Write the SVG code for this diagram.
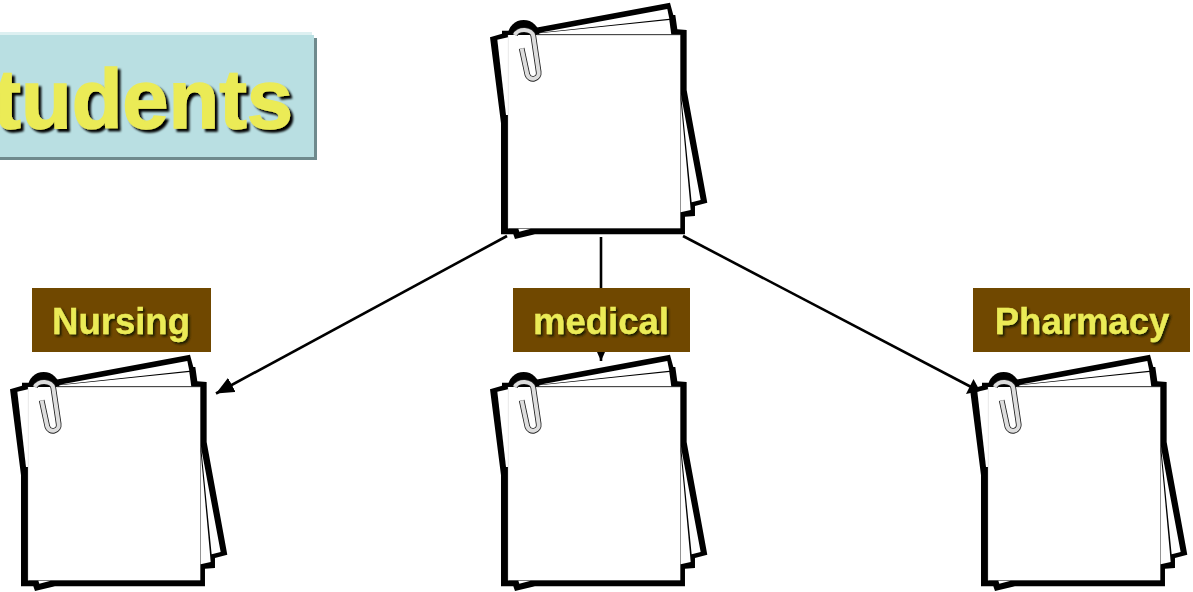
<svg xmlns="http://www.w3.org/2000/svg" width="1193" height="592" viewBox="0 0 1193 592">
<style>
.lbl{fill:#704800}
.t{font-family:"Liberation Sans",Arial,sans-serif;font-weight:700;fill:#EBEB57;stroke:#EBEB57}
.s{font-size:36.5px;stroke-width:.3;filter:url(#sh2)}
.c{fill:none;stroke:#000;stroke-width:2.6}
</style>
<defs>
<filter id="sh2" x="-10%" y="-20%" width="120%" height="140%"><feDropShadow dx="2" dy="2" stdDeviation="0.9" flood-color="#1a1a00"/></filter>
<filter id="sh4" x="-10%" y="-20%" width="120%" height="140%"><feDropShadow dx="3" dy="3" stdDeviation="1.1" flood-color="#000"/></filter>
<marker id="arr" markerUnits="userSpaceOnUse" markerWidth="19" markerHeight="16" refX="18" refY="8" orient="auto"><path d="M0,0L18,8L0,16Z"/></marker>
<g id="stack">
<path d="M30,112L66,101L66,92L90,92L175,82L570,8L580,45L586,45L592,88L620,90L620,270L682,608L645,618L645,648L615,650L615,703L165,703L105,717L100,703L63,703L63,370Z" fill="#000"/>
<ellipse cx="131" cy="105" rx="47" ry="45" fill="#000"/>
<path d="M52,119L84,112L84,345L78,345Z" fill="#fff"/>
<path d="M178,98L562,27L568,56Z" fill="#fff"/>
<path d="M178,100L568,60L574,104L178,104Z" fill="#fff"/>
<path d="M602,280L662,600L635,607L605,300Z" fill="#fff"/>
<path d="M602,300L630,605L632,630L602,637Z" fill="#fff"/>
<path d="M115,686L152,686L118,695Z" fill="#fff"/>
<rect x="84" y="105" width="517" height="580" fill="#fff"/>
<path d="M85,105V685" stroke="#ddd" stroke-width="2" fill="none"/>
<path d="M170,104H601" stroke="#333" stroke-width="3" fill="none"/>
<path d="M105,105A28,20 0 0 1 160,108L176,216A17.500,17.500 0 0 1 142,224L125,145" fill="none" stroke="#222" stroke-width="17"/>
<path d="M105,105A28,20 0 0 1 160,108L176,216A17.500,17.500 0 0 1 142,224L125,145" fill="none" stroke="#ddd" stroke-width="12"/>
</g>
</defs>
<g id="node-top"><use href="#stack" transform="translate(480,0) scale(.3333)"/></g>
<g id="node-nursing"><use href="#stack" transform="translate(0,352) scale(.3333)"/></g>
<g id="node-medical"><use href="#stack" transform="translate(480,352) scale(.3333)"/></g>
<g id="node-pharmacy"><use href="#stack" transform="translate(960,352) scale(.3333)"/></g>
<g id="connectors">
<path class="c" d="M507,236L216,393.500" marker-end="url(#arr)"/>
<path class="c" d="M601,237V361" marker-end="url(#arr)"/>
<path class="c" d="M683,236L975,389"/>
<path d="M973.500,379L966,394L980,391Z"/>
</g>
<g id="title">
<rect x="-4" y="32" width="316" height="5" fill="#DDF0F1"/>
<rect x="-4" y="38" width="321" height="122" fill="#6F8A8D"/>
<rect x="-4" y="35" width="318" height="122" fill="#B9DFE2"/>
<text class="t" x="293" y="128" font-size="83" stroke-width="1.4" text-anchor="end" filter="url(#sh4)">Students</text>
</g>
<g id="label-nursing"><rect class="lbl" x="32" y="288" width="179" height="64"/><text class="t s" x="121" y="333.500" text-anchor="middle">Nursing</text></g>
<g id="label-medical"><rect class="lbl" x="513" y="288" width="177" height="64"/><text class="t s" x="601" y="333.500" text-anchor="middle">medical</text></g>
<g id="label-pharmacy"><rect class="lbl" x="973" y="288" width="217" height="64"/><text class="t s" x="1082" y="333.500" text-anchor="middle">Pharmacy</text></g>
</svg>
